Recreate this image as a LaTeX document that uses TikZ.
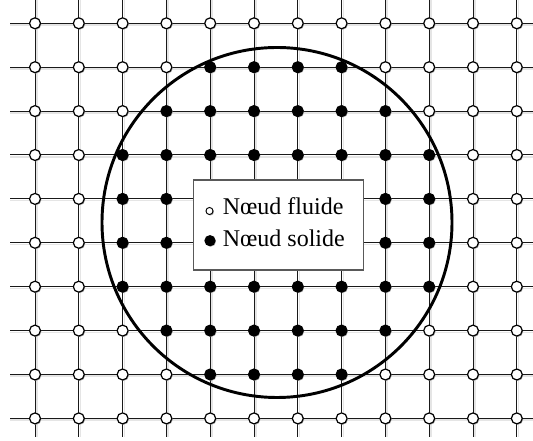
\documentclass[tikz,border=0pt]{standalone}
\usepackage{fontspec}
\setmainfont{Liberation Serif}
\usetikzlibrary{positioning, shadows}

\tikzset{
  gridline/.style={line width=0.75pt, black!90},
  gridshadow/.style={line width=1.2pt, black!10},
  fluide/.style={circle, draw, line width=0.9pt, fill=white, inner sep=0pt,
    minimum size=8.2pt, drop shadow={shadow xshift=0.7pt, shadow yshift=-0.7pt, fill=black!35, opacity=1}},
  solide/.style={fluide, fill=black},
  legendbox/.style={draw=black!65, line width=0.8pt, fill=white, inner sep=0pt,
    minimum width=127.3pt, minimum height=67.5pt},
  legtext/.style={anchor=base west, inner sep=0pt, font=\fontsize{18}{21}\selectfont}
}

\begin{document}
\begin{tikzpicture}[x=0.75pt, y=-0.75pt]
  \useasboundingbox (0,0) rectangle (533,441);

  % ---------------------------------------------------------
  % Grid: free ends of the lines
  % ---------------------------------------------------------
  \foreach \i in {0,...,11} {
    \coordinate (top\i) at (35+43.8*\i, 0);
    \coordinate (bot\i) at (35+43.8*\i, 437);
  }
  \foreach \j in {0,...,9} {
    \coordinate (left\j) at (10, 23.3+43.9*\j);
    \coordinate (right\j) at (533, 23.3+43.9*\j);
  }

  % Shadow of the grid lines
  \foreach \i in {0,...,11}
    \draw[gridshadow] ([shift={(1.8,0)}]top\i) -- ([shift={(1.8,0)}]bot\i);
  \foreach \j in {0,...,9}
    \draw[gridshadow] ([shift={(0,1.8)}]left\j) -- ([shift={(0,1.8)}]right\j);

  % Grid lines
  \foreach \i in {0,...,11}
    \draw[gridline] (top\i) -- (bot\i);
  \foreach \j in {0,...,9}
    \draw[gridline] (left\j) -- (right\j);

  % Solid boundary (circle)
  \coordinate (centre) at (277,222.5);
  \draw[line width=2.2pt] (centre) circle [radius=175];

  % ---------------------------------------------------------
  % Lattice nodes: solid inside the circle, fluid outside
  % ---------------------------------------------------------
  \foreach \j in {0,...,9} {
    \foreach \i in {0,...,11} {
      \pgfmathsetmacro\dist{veclen(35+43.8*\i-277, 23.3+43.9*\j-222.5)}
      \ifdim\dist pt<175pt \def\kind{solide}\else\def\kind{fluide}\fi
      \node[\kind] (n\i-\j) at (35+43.8*\i, 23.3+43.9*\j) {};
    }
  }

  % ---------------------------------------------------------
  % Legend
  % ---------------------------------------------------------
  \node[legendbox] (legend) at (278.2,225) {};
  \node[fluide, minimum size=5.3pt, line width=0.7pt] (legf) at (209.5,211) {};
  \node[solide, minimum size=7.5pt] (legs) at (210,240.7) {};
  \node[legtext] (txtf) at (222.5,215) {Nœud fluide};
  \node[legtext] (txts) at (222.5,246.7) {Nœud solide};

\end{tikzpicture}
\end{document}
